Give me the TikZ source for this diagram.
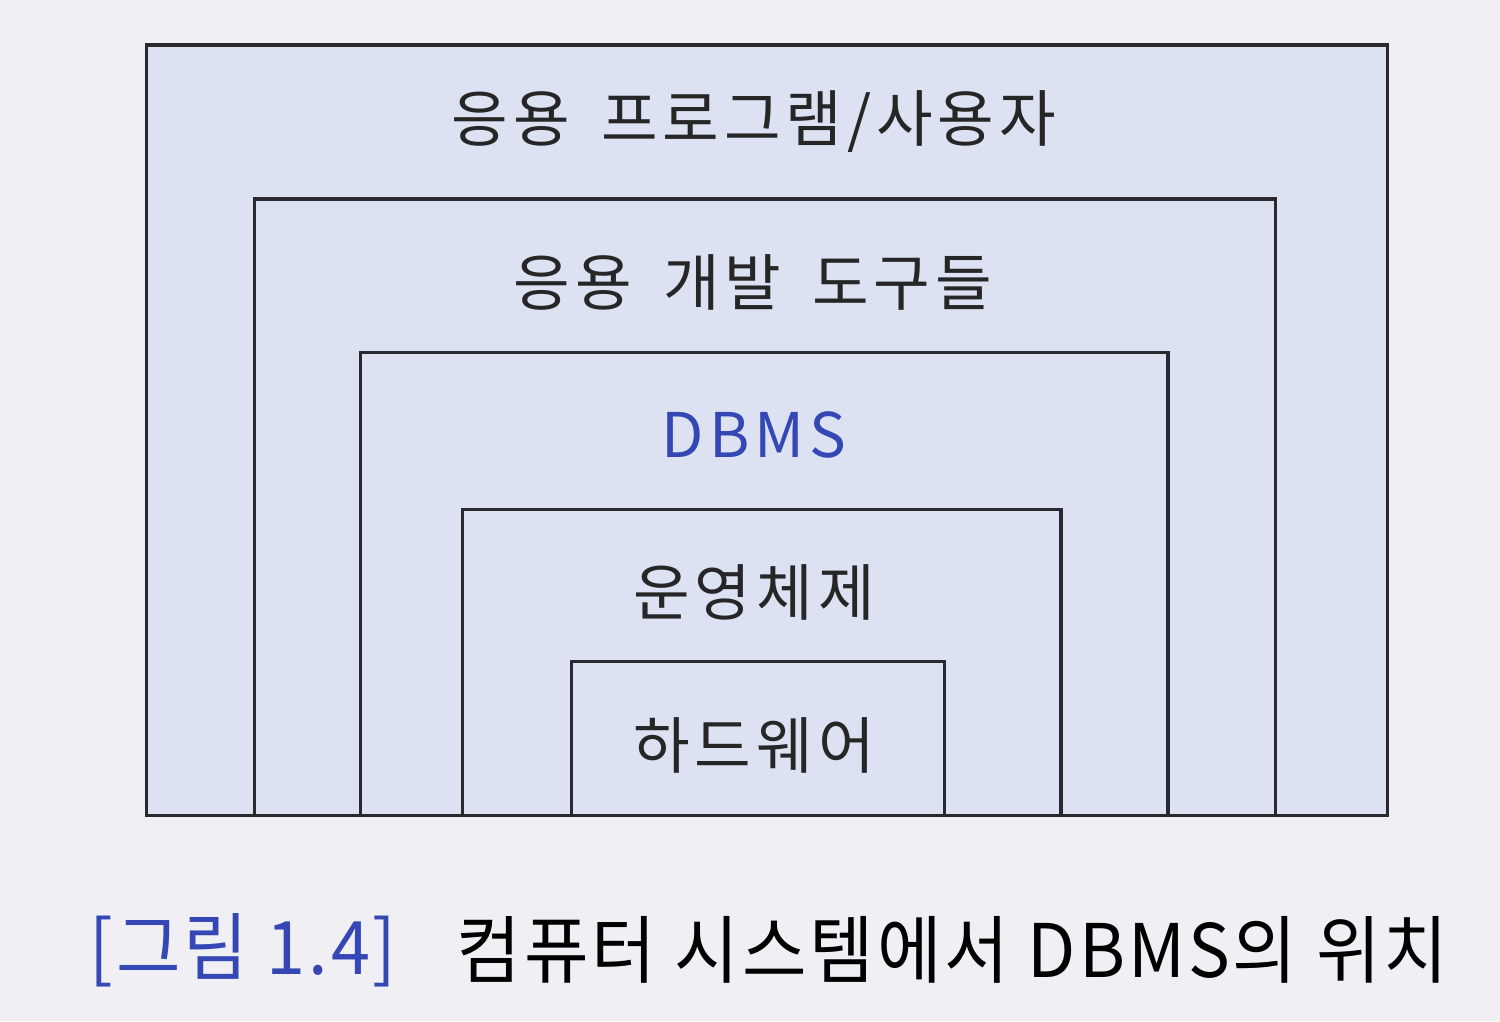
\documentclass[tikz,border=0pt]{standalone}
\usepackage{fontspec}
\usetikzlibrary{positioning}
\setmainfont[LetterSpace=8]{Noto Sans CJK KR}
\newfontfamily\capfont[FakeStretch=0.95, LetterSpace=4]{Noto Sans CJK KR}
\definecolor{paper}{HTML}{EFEFF4}
\definecolor{boxfill}{HTML}{DCE2F2}
\definecolor{boxline}{HTML}{2A2A2E}
\definecolor{dbblue}{HTML}{3447B4}

\tikzstyle{layer} = [rectangle, draw=boxline, fill=boxfill, line width=0.9pt,
    anchor=south west, inner sep=0pt]
\tikzstyle{title} = [font=\fontsize{17.5}{20}\selectfont, text=black!85]
\tikzstyle{caption} = [font=\capfont\fontsize{21}{24}\selectfont, anchor=west]

\begin{document}
\begin{tikzpicture}[x=0.01cm, y=-0.01cm]
\fill[paper] (0,0) rectangle (1500,1021);
\useasboundingbox (0,0) rectangle (1500,1021);

%Layers
\node (User) [layer, minimum width=12.4cm, minimum height=7.7cm] at (145,817) {};
\node (Tools) [layer, minimum width=10.2cm, minimum height=6.16cm] at (253,817) {};
\node (DBMS) [layer, minimum width=8.07cm, minimum height=4.63cm] at (359,817) {};
\node (OS) [layer, minimum width=5.98cm, minimum height=3.06cm] at (461,817) {};
\node (HW) [layer, minimum width=3.73cm, minimum height=1.54cm] at (570,817) {};

%Labels
\node (UserText) [title] at (754,122) {응용\hspace{0.2em} 프로그램/사용자};
\node (ToolsText) [title] at (753,282) {응용\hspace{0.2em} 개발\hspace{0.2em} 도구들};
\node (DBMSText) [title, text=dbblue] at (754,435) {DBMS};
\node (OSText) [title] at (754,592) {운영체제};
\node (HWText) [title] at (754,745) {하드웨어};

%Caption
\node (FigNo) [caption, text=dbblue] at (77,950) {[그림 1.4]};
\node (FigText) [caption, right=0.35cm of FigNo.east, anchor=west] {컴퓨터 시스템에서 DBMS의 위치};
\end{tikzpicture}
\end{document}
